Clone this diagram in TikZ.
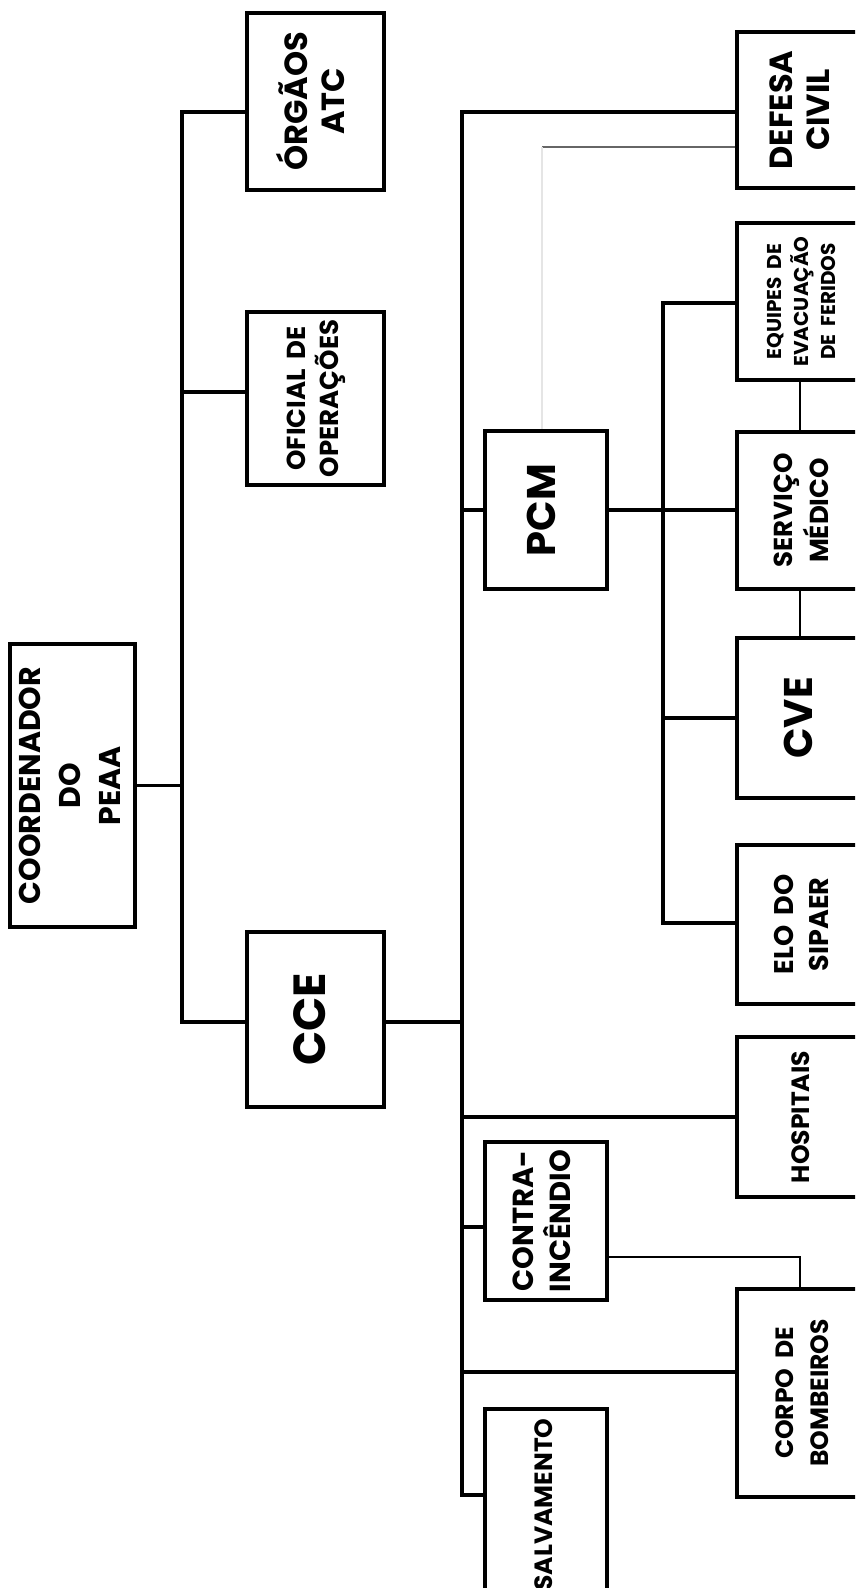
\documentclass[tikz,border=0pt]{standalone}
\usepackage{fontspec}
\setmainfont{Poppins}
\newcommand\rtxt[3]{\rotatebox{90}{\fontsize{#1}{#2}\selectfont\bfseries\spaceskip=0.38em\relax\begin{tabular}{@{}c@{}}#3\end{tabular}}}
\begin{document}
\begin{tikzpicture}[x=1pt,y=-1pt,
  box/.style={draw, line width=3.1pt, inner sep=0pt, fill=white},
  conn/.style={line width=3.1pt},
  thinconn/.style={line width=2pt},
  greyconn/.style={line width=1.5pt, draw=black!60},
  faintconn/.style={line width=1.5pt, draw=black!10}]
\useasboundingbox (0,0) rectangle (855,1588);
\clip (0,0) rectangle (855,1588);
% column 1
\node[box, minimum width=125pt, minimum height=283pt] (coord) at (72.5,785.5) {\rtxt{30}{40}{COORDENADOR\\DO\\PEAA}};
% column 2
\node[box, minimum width=137pt, minimum height=177pt] (orgaos) at (315.5,101.5) {\rtxt{32}{37}{ÓRGÃOS\\ATC}};
\node[box, minimum width=137pt, minimum height=173pt] (oficial) at (315.5,398.5) {\rtxt{26}{31}{OFICIAL DE\\OPERAÇÕES}};
\node[box, minimum width=137pt, minimum height=175pt] (cce) at (315.5,1019.5) {\rtxt{45}{50}{CCE}};
% column 3
\node[box, minimum width=122pt, minimum height=158pt] (pcm) at (546,510) {\rtxt{40}{46}{PCM}};
\node[box, minimum width=122pt, minimum height=158pt] (contra) at (546,1221) {\rtxt{29}{31}{CONTRA-\\INCÊNDIO}};
\node[box, minimum width=122pt, minimum height=191pt] (salv) at (546,1504.5) {\rtxt{25}{30}{SALVAMENTO}};
% column 4
\node[box, minimum width=133pt, minimum height=156pt] (defesa) at (803.5,110) {\rtxt{32}{37}{DEFESA\\CIVIL}};
\node[box, minimum width=133pt, minimum height=157pt] (equipes) at (803.5,301.5) {\rtxt{20}{27}{EQUIPES DE\\EVACUAÇÃO\\DE FERIDOS}};
\node[box, minimum width=133pt, minimum height=157pt] (serv) at (803.5,510.5) {\rtxt{26}{36}{SERVIÇO\\MÉDICO}};
\node[box, minimum width=133pt, minimum height=160pt] (cve) at (803.5,718) {\rtxt{40}{46}{CVE}};
\node[box, minimum width=133pt, minimum height=159pt] (elo) at (803.5,924.5) {\rtxt{27}{35}{ELO DO\\SIPAER}};
\node[box, minimum width=133pt, minimum height=160pt] (hosp) at (803.5,1117) {\rtxt{25}{30}{HOSPITAIS}};
\node[box, minimum width=133pt, minimum height=208pt] (corpo) at (803.5,1393) {\rtxt{25}{35}{CORPO DE\\BOMBEIROS}};
% trunk coordinates
\coordinate (la) at (182,112);
\coordinate (lb) at (182,1022);
\coordinate (ma) at (462,112);
\coordinate (mb) at (462,1495);
\coordinate (sa) at (663,303);
\coordinate (sb) at (663,923);
% left tree
\draw[conn] (coord.east) -- (coord.east -| la);
\draw[conn] (orgaos.west |- la) -- (la) -- (lb) -- (cce.west |- lb);
\draw[conn] (la |- 0,392) -- (oficial.west |- 0,392);
\draw[conn] (cce.east |- lb) -- (lb -| ma);
% main trunk
\draw[conn] (defesa.west |- ma) -- (ma) -- (mb) -- (salv.west |- mb);
\draw[conn] (ma |- pcm.west) -- (pcm.west);
\draw[conn] (pcm.east) -- (serv.west |- pcm.east);
\draw[conn] (ma |- hosp.west) -- (hosp.west);
\draw[conn] (ma |- 0,1227) -- (contra.west |- 0,1227);
\draw[conn] (ma |- 0,1372) -- (corpo.west |- 0,1372);
% sub trunk
\draw[conn] (equipes.west |- sa) -- (sa) -- (sb) -- (elo.west |- sb);
\draw[conn] (sa |- cve.west) -- (cve.west);
% thin links
\draw[thinconn] (equipes.south -| 800,0) -- (serv.north -| 800,0);
\draw[thinconn] (serv.south -| 800,0) -- (cve.north -| 800,0);
\draw[thinconn] (contra.east |- 0,1257) -- (800,1257) -- (corpo.north -| 800,0);
% grey link
\draw[greyconn] (defesa.west |- 0,147) -- (542,147);
\draw[faintconn] (542,147) -- (pcm.north -| 542,0);
\end{tikzpicture}
\end{document}
